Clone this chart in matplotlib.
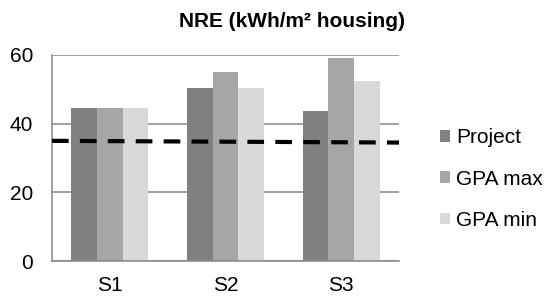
import numpy as np
import matplotlib
matplotlib.use("Agg")
import matplotlib.pyplot as plt

plt.rcParams['font.family'] = ['Liberation Sans', 'DejaVu Sans']

# --- data ---
categories = ['S1', 'S2', 'S3']
series_names = ['Project', 'GPA max', 'GPA min']
project = [44.7, 50.5, 43.6]
gpa_max = [44.7, 55.0, 59.2]
gpa_min = [44.7, 50.5, 52.5]
threshold = [35.0, 34.5]   # dashed reference line, left end / right end
y_ticks = [0, 20, 40, 60]

colors = ['#808080', '#a6a6a6', '#d9d9d9']
grid_col = '#868686'
fs = 15

fig = plt.figure(figsize=(5.46, 2.96), dpi=100)
ax = fig.add_axes([0.0952, 0.1182, 0.6356, 0.696])

x = np.arange(len(categories))
w = 0.221
handles = []
for i, (vals, name) in enumerate(zip([project, gpa_max, gpa_min], series_names)):
    b = ax.bar(x + (i - 1) * w, vals, width=w, color=colors[i], label=name, zorder=2)
    handles.append(b)

ax.plot([-0.5, len(categories) - 0.5], threshold, color='black', lw=3,
        dashes=(4, 2.7), zorder=3, solid_capstyle='butt')

ax.set_xlim(-0.5, len(categories) - 0.5)
ax.set_ylim(0, 60)
ax.set_yticks(y_ticks)
ax.set_xticks(x)
ax.set_xticklabels(categories)
ax.grid(axis='y', color=grid_col, lw=1.1, zorder=1)
ax.set_axisbelow(True)
for s in ['top', 'right']:
    ax.spines[s].set_visible(False)
for s in ['left', 'bottom']:
    ax.spines[s].set_color(grid_col)
    ax.spines[s].set_linewidth(1.1)
ax.tick_params(axis='y', length=0, pad=13.5, labelsize=fs)
ax.tick_params(axis='x', length=0, pad=10.5, labelsize=fs)

fig.text(0.535, 0.926, 'NRE (kWh/m² housing)', ha='center', va='center',
         fontsize=fs, fontweight='bold')

fig.legend(handles=handles, labels=series_names, loc='center left',
           bbox_to_anchor=(0.806, 0.395), frameon=False, fontsize=fs,
           handlelength=0.48, handleheight=0.48, handletextpad=0.3,
           labelspacing=1.07, borderaxespad=0, borderpad=0)

fig.savefig('out.png', dpi=100)
